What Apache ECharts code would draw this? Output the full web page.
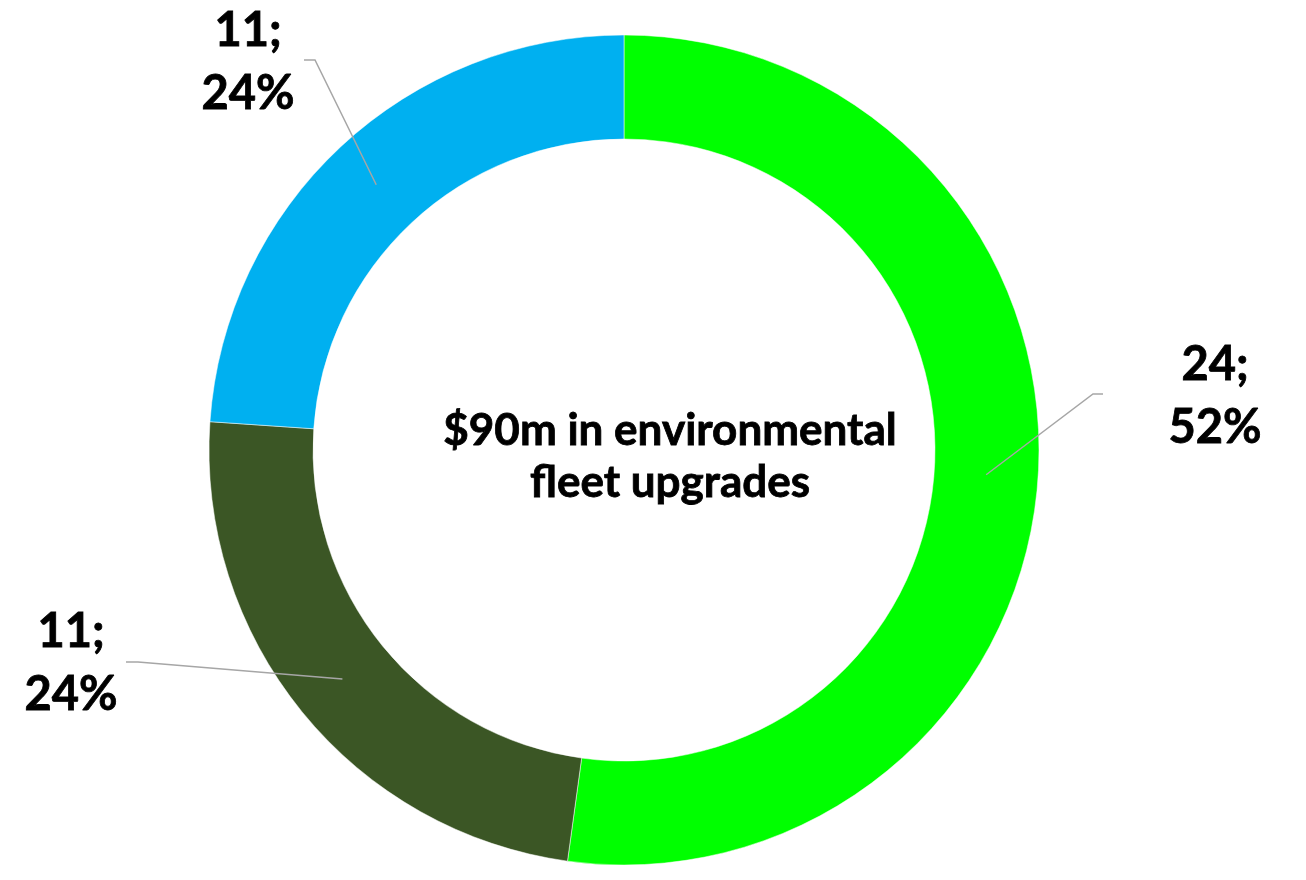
<!DOCTYPE html>
<html>
<head>
<meta charset="utf-8">
<script src="https://cdn.jsdelivr.net/npm/echarts@6/dist/echarts.min.js"></script>
<style>
  html, body { margin: 0; padding: 0; background: #ffffff; }
  #chart { width: 1306px; height: 880px; }
</style>
</head>
<body>
<div id="chart"></div>
<script>
// Fleet upgrade spend, $m, split into three groups
const categories = ['Group A', 'Group B', 'Group C'];
const values = [24, 11, 11];
const centerTitle = '$90m in environmental\nfleet upgrades';

// Presentation settings
const sliceColors = ['#00FF00', '#3B5625', '#00B0F0'];
const ringCenter = [624, 450];
const ringRadius = [311, 415];
// label block centre and leader-line end for each slice
const labelAnchors = [[1215, 396], [71, 663], [248, 62]];
const leaderEnds = [[1103, 394], [126, 662], [304, 60]];
const kneeOffsets = [-10, 12, 11];

const total = values.reduce((a, b) => a + b, 0);

// point on the middle of the ring at the middle angle of slice i
function ringMidPoint(i) {
  let before = 0;
  for (let k = 0; k < i; k++) before += values[k];
  const frac = (before + values[i] / 2) / total;
  const theta = (90 - frac * 360) * Math.PI / 180;
  const r = (ringRadius[0] + ringRadius[1]) / 2;
  return [ringCenter[0] + r * Math.cos(theta), ringCenter[1] - r * Math.sin(theta)];
}

const baseRing = {
  type: 'pie',
  center: ringCenter,
  radius: ringRadius,
  startAngle: 90,
  clockwise: true,
  percentPrecision: 0,
  avoidLabelOverlap: false
};

const chart = echarts.init(document.getElementById('chart'), null, { renderer: 'canvas' });

chart.setOption({
  animation: false,
  backgroundColor: '#ffffff',
  graphic: [{
    type: 'text',
    x: 670,
    y: 457,
    z: 10,
    style: {
      text: centerTitle,
      font: 'bold 44px Lato',
      lineHeight: 52,
      fill: '#000000',
      stroke: '#000000',
      lineWidth: 0.8,
      align: 'center',
      verticalAlign: 'middle'
    }
  }],
  series: [
    // coloured ring
    Object.assign({}, baseRing, {
      z: 2,
      itemStyle: { borderColor: '#ffffff', borderWidth: 0.5 },
      label: { show: false },
      labelLine: { show: false },
      data: categories.map((name, i) => ({
        name: name,
        value: values[i],
        itemStyle: { color: sliceColors[i] }
      }))
    }),
    // transparent copy on top that carries the value labels and leader lines
    Object.assign({}, baseRing, {
      z: 3,
      silent: true,
      itemStyle: { color: 'rgba(0,0,0,0)', borderWidth: 0 },
      label: {
        show: true,
        position: 'outside',
        formatter: '{c};\n{d}%',
        fontFamily: 'Lato',
        fontWeight: 'bold',
        fontSize: 47,
        lineHeight: 63,
        color: '#000000',
        textBorderColor: '#000000',
        textBorderWidth: 0.8,
        align: 'center'
      },
      labelLine: {
        show: true,
        showAbove: true,
        lineStyle: { color: '#A6A6A6', width: 1.5 }
      },
      labelLayout: function (params) {
        const i = params.dataIndex;
        const end = leaderEnds[i];
        return {
          x: labelAnchors[i][0],
          y: labelAnchors[i][1],
          align: 'center',
          verticalAlign: 'middle',
          labelLinePoints: [ringMidPoint(i), [end[0] + kneeOffsets[i], end[1]], end]
        };
      },
      data: categories.map((name, i) => ({ name: name, value: values[i] }))
    })
  ]
});
</script>
</body>
</html>
